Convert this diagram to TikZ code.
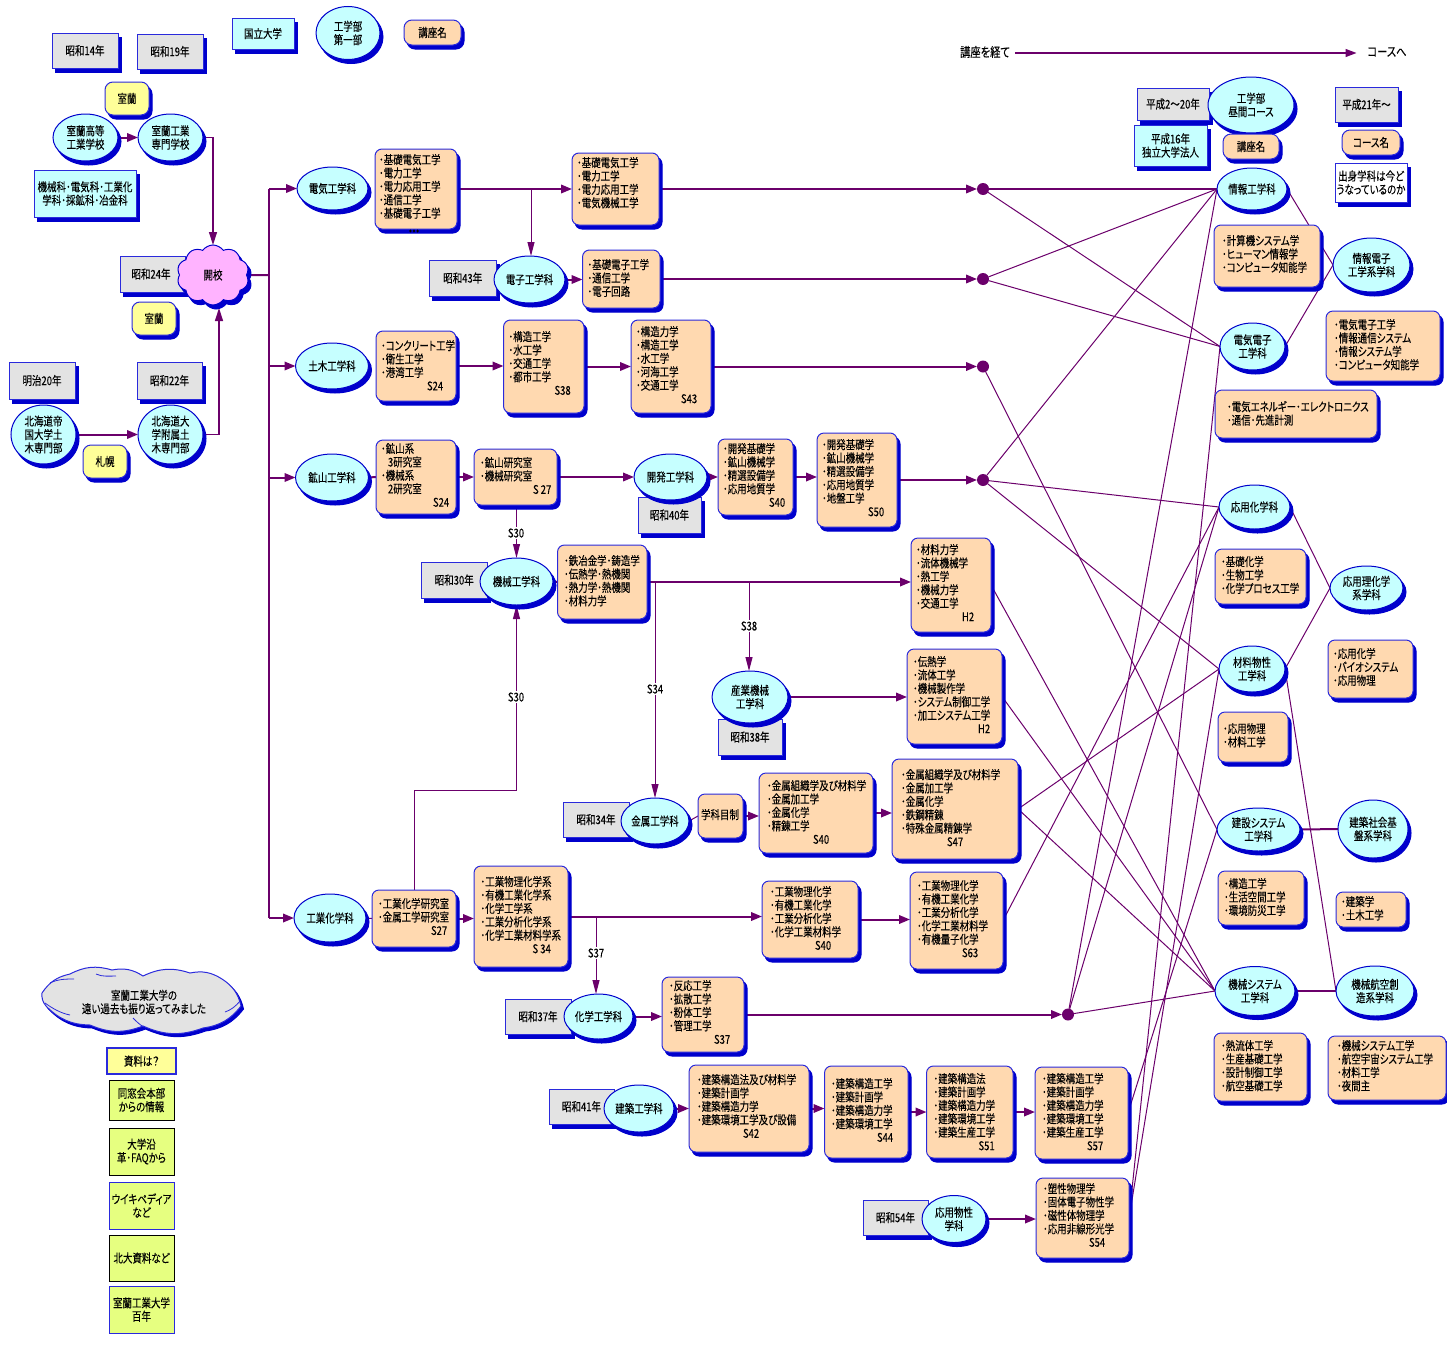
\documentclass[tikz,border=0pt]{standalone}
\usepackage{fontspec}
\setmainfont{Noto Sans CJK JP}[FakeStretch=0.79,FakeBold=0.1,RawFeature={+palt}]
\usetikzlibrary{shapes.geometric,shapes.symbols,shadows,arrows.meta,calc}
\pgfdeclarelayer{edges}
\pgfsetlayers{edges,main}
\definecolor{sblue}{HTML}{0000CC}
\definecolor{bblue}{HTML}{2A2ADC}
\definecolor{cyanf}{HTML}{C6FFFF}
\definecolor{grayf}{HTML}{E3E3E3}
\definecolor{peach}{HTML}{FFD9B0}
\definecolor{yell}{HTML}{FFFF99}
\definecolor{lime}{HTML}{E6FF80}
\definecolor{pink}{HTML}{FFB3FF}
\definecolor{purp}{HTML}{6B006B}
\newcommand\fs{\fontsize{12}{13.4}\selectfont}
\tikzset{
  x=1pt,y=-1pt,
  every node/.style={font=\fs,text=black,inner sep=0pt,outer sep=0pt},
  shade3/.style={general shadow={fill=sblue,draw=sblue,shadow xshift=3pt,shadow yshift=-4pt}},
  rectbase/.style={rectangle,draw=bblue,line width=1pt,align=center,shade3},
  yrbox/.style={rectbase,fill=grayf},
  cybox/.style={rectbase,fill=cyanf},
  whbox/.style={rectbase,fill=white},
  ylbox/.style={rectbase,fill=yell,rounded corners=8pt},
  pcbox/.style={rectbase,fill=peach,rounded corners=8pt},
  kbox/.style={rectangle,draw=bblue,line width=1pt,fill=peach,rounded corners=7pt,shade3},
  ellbox/.style={ellipse,draw=sblue,line width=1pt,fill=cyanf,align=center,shade3},
  srcbox/.style={rectangle,draw=bblue,line width=1.2pt,fill=yell,align=center},
  limeb/.style={rectangle,draw=black,line width=1pt,fill=lime,align=center},
  limeu/.style={rectangle,draw=bblue,line width=1pt,fill=lime,align=center},
  dotn/.style={circle,fill=purp,minimum size=12pt},
  tagl/.style={fill=white,inner sep=1.5pt},
  thickln/.style={draw=purp,line width=2pt},
  thinln/.style={draw=purp,line width=1pt},
  midln/.style={draw=purp,line width=1.4pt},
  arr/.style={thickln,-{Triangle[length=11pt,width=8.5pt]}},
  tarr/.style={thinln,-{Triangle[length=14pt,width=7pt]}},
  marr/.style={midln,-{Triangle[length=13pt,width=8pt]}},
  cloudpuff/.style={bend left=22},
  wrinkle/.style={draw=bblue,line width=0.8pt},
}
\newcommand\kbx[8]{%
  \pgfmathsetmacro\wW{#4-#2}\pgfmathsetmacro\hH{#5-#3}%
  \node[kbox] (#1) at ({(#2+#4)/2},{(#3+#5)/2}) {\begin{minipage}[t][\hH pt][t]{\wW pt}\fs
    \leftskip=#6pt\rightskip=0pt plus 1fil\parfillskip=0pt plus 1fil
    \vspace*{\dimexpr#7pt-1pt\relax}#8\end{minipage}};}
\newcommand\rbx[7]{%
  \pgfmathsetmacro\wW{#5-#3}\pgfmathsetmacro\hH{#6-#4}%
  \node[#1,minimum width=\wW pt,minimum height=\hH pt] (#2) at ({(#3+#5)/2},{(#4+#6)/2}) {#7};}
\newcommand\elx[6]{%
  \node[ellbox,minimum width=#4pt,minimum height=#5pt] (#1) at (#2,#3) {#6};}
\newcommand\cloudpath{(42,993) to[cloudpuff] (70,974) to[cloudpuff] (112,970) to[cloudpuff] (143,976) to[cloudpuff] (190,973) to[cloudpuff] (222,979) to[cloudpuff] (241,1006) to[cloudpuff] (203,1028) to[cloudpuff] (143,1026) to[cloudpuff] (90,1025) to[cloudpuff] (46,1006) to[cloudpuff] (42,993) -- cycle}
\begin{document}
\begin{tikzpicture}
\useasboundingbox (0,0) rectangle (1447,1349);
% ---- year boxes (below the ellipses)
\rbx{yrbox}{y14}{52}{33}{118}{68}{昭和14年}
\rbx{yrbox}{y19}{137}{34}{203}{69}{昭和19年}
\rbx{yrbox}{y24}{120}{256}{185}{292}{\hspace*{-1.5pt}昭和24年\hspace*{1.5pt}}
\rbx{yrbox}{m20}{9}{362}{75}{399}{明治20年}
\rbx{yrbox}{y22}{137}{362}{202}{399}{昭和22年}
\rbx{yrbox}{y43}{429.5}{260}{496}{296}{昭和43年}
\rbx{yrbox}{y40}{638}{497}{701}{533}{昭和40年}
\rbx{yrbox}{y30}{421.5}{562}{487}{598}{昭和30年}
\rbx{yrbox}{y38}{718}{719}{782}{755}{昭和38年}
\rbx{yrbox}{y34}{563}{802}{629}{837}{昭和34年}
\rbx{yrbox}{y37}{505}{999}{571}{1034}{昭和37年}
\rbx{yrbox}{y41}{549}{1089}{614}{1124}{昭和41年}
\rbx{yrbox}{y54}{863}{1200}{928}{1235}{昭和54年}
\rbx{yrbox}{h2}{1137}{88}{1209}{120}{平成2～20年}
\rbx{yrbox}{h21}{1335}{87}{1398}{122}{平成21年～}
% ---- legend
\rbx{cybox}{lgn}{232}{18}{294}{49}{国立大学}
\elx{lge}{348}{33}{64}{53}{工学部\\第一部}
\rbx{pcbox}{lgk}{404}{20}{461}{45}{講座名}
\rbx{ylbox}{ymu1}{105}{82}{149}{115}{室蘭}
\elx{mk}{85.5}{137.5}{65}{47}{室蘭高等\\工業学校}
\elx{ms}{170.5}{137.5}{65}{47}{室蘭工業\\専門学校}
\rbx{cybox}{kam}{34}{170}{136}{217}{機械科･電気科･工業化\\学科･採鉱科･冶金科}
\node[cloud,cloud puffs=10,cloud puff arc=110,aspect=1.2,draw=sblue,line width=1pt,fill=pink,minimum width=72pt,minimum height=60pt,shade3] (kaiko) at (213,275) {開校};
\rbx{ylbox}{ymu2}{132}{302}{176}{335}{室蘭}
\elx{hk}{43.5}{434.5}{65}{59}{北海道帝\\国大学土\\木専門部}
\elx{hd}{170.5}{434.5}{65}{59}{北海道大\\学附属土\\木専門部}
\rbx{ylbox}{ysa}{83}{445}{127}{478}{札幌}
% ---- departments
\elx{de}{332.5}{188.5}{71}{43}{電気工学科}
\elx{do}{332}{366}{73}{46}{土木工学科}
\elx{ko}{332}{477.5}{73}{47}{鉱山工学科}
\elx{kg}{330}{918}{72}{48}{工業化学科}
\elx{ds}{529.5}{279.5}{71}{47}{電子工学科}
\elx{kh}{670.5}{477}{73}{46}{開発工学科}
\elx{kk}{516.5}{581.5}{73}{47}{機械工学科}
\elx{sg}{750}{697}{76}{52}{産業機械\\工学科}
\elx{kz}{655}{821}{68}{46}{金属工学科}
\elx{kc}{598.5}{1016.5}{69}{45}{化学工学科}
\elx{kn}{639}{1108.5}{70}{47}{建築工学科}
\elx{op}{954}{1219}{64}{47}{応用物性\\学科}
% ---- course boxes
\kbx{a1}{375}{149}{457}{229}{4}{6}{･基礎電気工学\\･電力工学\\･電力応用工学\\･通信工学\\･基礎電子工学}
\node (ov) at (414,231) {\fontsize{13}{13}\selectfont\bfseries ...};
\kbx{a2}{572}{153}{659}{225}{5}{5}{･基礎電気工学\\･電力工学\\･電力応用工学\\･電気機械工学}
\kbx{b1}{582.5}{250}{660}{308}{5}{10}{･基礎電子工学\\･通信工学\\･電子回路}
\kbx{c1}{376}{331}{456}{401}{5}{10}{･コンクリート工学\\･衛生工学\\･港湾工学\\\hspace*{46pt}S24}
\kbx{c2}{503.5}{320}{584}{413}{5}{12}{･構造工学\\･水工学\\･交通工学\\･都市工学\\\hspace*{46pt}S38}
\kbx{c3}{631}{320}{711}{413}{5}{7}{･構造力学\\･構造工学\\･水工学\\･河海工学\\･交通工学\\\hspace*{45pt}S43}
\kbx{d1b}{376}{440}{456}{514}{5}{4}{･鉱山系\\\hspace*{7pt}3研究室\\･機械系\\\hspace*{7pt}2研究室\\\hspace*{52pt}S24}
\kbx{d2}{474}{449}{557}{505}{6}{9}{･鉱山研究室\\･機械研究室\\\hspace*{53pt}S 27}
\kbx{d3}{718}{439}{793}{515}{5}{5}{･開発基礎学\\･鉱山機械学\\･精選設備学\\･応用地質学\\\hspace*{46pt}S40}
\kbx{d4}{817}{433}{897}{527}{5}{7}{･開発基礎学\\･鉱山機械学\\･精選設備学\\･応用地質学\\･地盤工学\\\hspace*{46pt}S50}
\kbx{e1}{557.5}{545}{647}{619}{6.5}{11}{･鉄冶金学･鋳造学\\･伝熱学･熱機関\\･熱力学･熱機関\\･材料力学}
\kbx{e2}{911}{538}{991}{632}{5}{7}{･材料力学\\･流体機械学\\･熱工学\\･機械力学\\･交通工学\\\hspace*{46pt}H2}
\kbx{f2}{907}{649}{1002}{744}{6}{8}{･伝熱学\\･流体工学\\･機械製作学\\･システム制御工学\\･加工システム工学\\\hspace*{65pt}H2}
\kbx{g0}{698}{794}{743}{838}{3}{16}{学科目制}
\kbx{g1}{759}{773}{873}{853}{8}{8}{･金属組織学及び材料学\\･金属加工学\\･金属化学\\･精錬工学\\\hspace*{46pt}S40}
\kbx{g2}{892}{759}{1018}{859}{9}{11}{･金属組織学及び材料学\\･金属加工学\\･金属化学\\･鉄鋼精錬\\･特殊金属精錬学\\\hspace*{46pt}S47}
\kbx{h1}{372}{890}{456}{947}{6}{9}{･工業化学研究室\\･金属工学研究室\\\hspace*{53pt}S27}
\kbx{h2b}{474}{866}{568}{967}{6.5}{11}{･工業物理化学系\\･有機工業化学系\\･化学工学系\\･工業分析化学系\\･化学工業材料学系\\\hspace*{52pt}S 34}
\kbx{h3}{762}{881}{858}{958}{8}{6}{･工業物理化学\\･有機工業化学\\･工業分析化学\\･化学工業材料学\\\hspace*{45pt}S40}
\kbx{h4}{910}{872}{1003}{969}{7}{9}{･工業物理化学\\･有機工業化学\\･工業分析化学\\･化学工業材料学\\･有機量子化学\\\hspace*{45pt}S63}
\kbx{i1}{662}{977}{744}{1052}{7}{4}{･反応工学\\･拡散工学\\･粉体工学\\･管理工学\\\hspace*{45pt}S37}
\kbx{j1}{689}{1065}{809}{1152}{8}{10}{･建築構造法及び材料学\\･建築計画学\\･建築構造力学\\･建築環境工学及び設備\\\hspace*{46pt}S42}
\kbx{j2}{824.5}{1066}{908}{1158}{6.5}{13}{･建築構造工学\\･建築計画学\\･建築構造力学\\･建築環境工学\\\hspace*{46pt}S44}
\kbx{j3}{926.5}{1066}{1013}{1158}{7}{8}{･建築構造法\\･建築計画学\\･建築構造力学\\･建築環境工学\\･建築生産工学\\\hspace*{45pt}S51}
\kbx{j4}{1035}{1067}{1128}{1159}{7}{7}{･建築構造工学\\･建築計画学\\･建築構造力学\\･建築環境工学\\･建築生産工学\\\hspace*{45pt}S57}
\kbx{k1}{1036}{1178}{1129}{1258}{7}{6}{･塑性物理学\\･固体電子物性学\\･磁性体物理学\\･応用非線形光学\\\hspace*{46pt}S54}
% ---- right column
\node (tr1) at (985,52) {\fontsize{13}{14}\selectfont 講座を経て};
\node (tr2) at (1387,52) {\fontsize{13}{14}\selectfont コースへ};
\elx{hc}{1251}{105}{86}{56}{工学部\\昼間コース}
\rbx{cybox}{h16}{1134}{125}{1207}{166}{平成16年\\独立大学法人}
\rbx{pcbox}{rk}{1223}{134}{1279}{159}{講座名}
\rbx{pcbox}{rc}{1342}{130}{1400}{155}{コース名}
\rbx{whbox}{rw}{1335}{163}{1407}{202}{出身学科は今ど\\うなっているのか}
\elx{jk}{1252}{189}{70}{42}{情報工学科}
\kbx{r1}{1214}{225}{1320}{287}{8}{11}{･計算機システム学\\･ヒューマン情報学\\･コンピュータ知能学}
\elx{jd}{1371.5}{265}{77}{54}{情報電子\\工学系学科}
\elx{dd}{1252.5}{346.5}{65}{47}{電気電子\\工学科}
\kbx{r2}{1326}{311}{1440}{381}{8}{9}{･電気電子工学\\･情報通信システム\\･情報システム学\\･コンピュータ知能学}
\kbx{r3}{1215}{390}{1377}{438}{12}{12}{･電気エネルギー･エレクトロニクス\\･通信･先進計測}
\elx{oc}{1254.5}{507}{71}{44}{応用化学科}
\kbx{r4}{1215}{549}{1306}{604}{6}{8}{･基礎化学\\･生物工学\\･化学プロセス工学}
\elx{or}{1366.5}{588}{73}{44}{応用理化学\\系学科}
\elx{zb}{1252}{669}{66}{46}{材料物性\\工学科}
\kbx{r5}{1328}{640}{1413}{698}{5}{9}{･応用化学\\･バイオシステム\\･応用物理}
\kbx{r6}{1218}{712}{1288}{762}{5}{12}{･応用物理\\･材料工学}
\elx{ks}{1258.5}{829.5}{83}{43}{建設システム\\工学科}
\elx{kb}{1373}{829}{70}{58}{建築社会基\\盤系学科}
\kbx{r7}{1218}{871}{1304}{925}{6}{8}{･構造工学\\･生活空間工学\\･環境防災工学}
\kbx{r8}{1336}{892}{1406}{927}{5}{5}{･建築学\\･土木工学}
\elx{ms2}{1255}{991}{80}{49}{機械システム\\工学科}
\elx{kc2}{1375}{991}{78}{50}{機械航空創\\造系学科}
\kbx{r9}{1214}{1033}{1307}{1101}{7}{8}{･熱流体工学\\･生産基礎工学\\･設計制御工学\\･航空基礎工学}
\kbx{r10}{1328}{1036}{1446}{1100}{9}{5}{･機械システム工学\\･航空宇宙システム工学\\･材料工学\\･夜間主}
% ---- junction dots
\node[dotn] (p1) at (983,189) {};
\node[dotn] (p2) at (983,279) {};
\node[dotn] (p3) at (983,366.5) {};
\node[dotn] (p4) at (983,480) {};
\node[dotn] (p5) at (1068,1014.5) {};
% ---- bottom-left cloud and source list
\begin{scope}[shift={(2.5,3)}]
\path[fill=sblue,draw=sblue,line width=1pt] \cloudpath;
\end{scope}
\path[fill=grayf,draw=bblue,line width=1pt] \cloudpath;
\draw[wrinkle] (50,983) .. controls (58,979) and (66,979) .. (74,979);
\draw[wrinkle] (45,1003) .. controls (52,1008) and (60,1013) .. (70,1015);
\draw[wrinkle] (225,1012) .. controls (231,1010) and (236,1006) .. (240,1001);
\draw[wrinkle] (133,1018) .. controls (137,1022) and (140,1025) .. (144,1027);
\draw[wrinkle] (96,974) .. controls (102,977) and (110,976) .. (116,976);
\node[align=center] (cl) at (144,1002) {室蘭工業大学の\\遠い過去も振り返ってみました};
\rbx{srcbox}{s0}{107}{1048}{176}{1074}{資料は？}
\rbx{limeb}{s1}{109}{1080}{174}{1120}{同窓会本部\\からの情報}
\rbx{limeb}{s2}{109}{1128}{174}{1175}{大学沿\\革･FAQから}
\rbx{limeu}{s3}{109}{1182}{174}{1229}{ウイキペディア\\など}
\rbx{limeb}{s4}{109}{1235}{174}{1281}{北大資料など}
\rbx{limeu}{s5}{109}{1286}{174}{1333}{室蘭工業大学\\百年}
% ---- connectors
\coordinate (tr) at (269,275);
\begin{pgfonlayer}{edges}
\draw[arr] (mk.east) -- (ms.west);
\draw[marr] (ms.east) -| (kaiko.north);
\draw[arr] (hk.east) -- (hd.west);
\draw[marr] (hd.east) -| ([shift={(6pt,-3pt)}]kaiko.south);
\draw[thickln] (kaiko.east) -- (tr);
\draw[midln] (tr |- de.west) -- (tr |- kg.west);
\draw[arr] (tr |- de.west) -- (de.west);
\draw[arr] (tr |- do.west) -- (do.west);
\draw[arr] (tr |- ko.west) -- (ko.west);
\draw[arr] (tr |- kg.west) -- (kg.west);
\draw[thinln,line width=1.2pt,-{Triangle[length=11pt,width=8pt]},shorten >=11pt] ([shift={(5pt,-1pt)}]tr1.east) -- ([yshift=-1pt]tr2.west);
% top row
\draw[arr] (a1.east) -- (a1.east -| a2.west);
\draw[arr] (a2.east) -- (p1.west);
\coordinate (bd) at (531,189);
\draw[tarr] (bd) -- (bd |- ds.north);
\draw[arr] (ds.east) -- (ds.east -| b1.west);
\draw[arr] (b1.east) -- (p2.west);
\draw[arr] (c1.east) -- (c1.east -| c2.west);
\draw[arr] (c2.east) -- (c2.east -| c3.west);
\draw[arr] (c3.east) -- (p3.west);
\draw[thickln] (ko.east) -- (d1b.west);
\draw[arr] (d1b.east) -- (d1b.east -| d2.west);
\draw[arr] (d2.east) -- (d2.east -| kh.west);
\draw[arr] (kh.east) -- (kh.east -| d3.west);
\draw[arr] (d3.east) -- (d3.east -| d4.west);
\draw[arr] (d4.east) -- (p4.west);
\draw[tarr] (kk.north |- d2.south) -- (kk.north);
\draw[thickln] (kk.east) -- (e1.west);
\draw[arr] (e1.east) -- (e1.east -| e2.west);
\coordinate (ez) at (655,582);
\coordinate (es) at (749,582);
\draw[tarr] (ez) -- (ez |- kz.north);
\draw[tarr] (es) -- (es |- sg.north);
\draw[arr] (sg.east) -- (sg.east -| f2.west);
\draw[thinln] (kz.east) -- (g0.west);
\draw[arr] (g0.east) -- (g0.east -| g1.west);
\draw[arr] (g1.east) -- (g1.east -| g2.west);
\draw[thinln] (kg.east) -- (h1.west);
\draw[arr] (h1.east) -- (h1.east -| h2b.west);
\draw[arr] (h2b.east) -- (h2b.east -| h3.west);
\draw[arr] (h3.east) -- (h3.east -| h4.west);
\coordinate (hk2) at (414,790);
\draw[tarr] (h1.north -| hk2) -- (hk2) -- (hk2 -| kk.south) -- (kk.south);
\coordinate (hc2) at (596,917);
\draw[tarr] (hc2) -- (hc2 |- kc.north);
\draw[arr] (kc.east) -- (kc.east -| i1.west);
\draw[arr] (i1.east) -- (p5.west);
\draw[arr] (kn.east) -- (kn.east -| j1.west);
\draw[arr] (j1.east) -- (j1.east -| j2.west);
\draw[arr] (j2.east) -- (j2.east -| j3.west);
\draw[arr] (j3.east) -- (j3.east -| j4.west);
\draw[arr] (op.east) -- (op.east -| k1.west);
% crossing lines
\draw[thickln] (p1) -- (jk.west);
\draw[thinln] (p1) -- (dd.west);
\draw[thinln] (p2) -- (jk.west);
\draw[thinln] (p2) -- (dd.west);
\draw[thinln] (p3) -- (ks.west);
\draw[thinln] (p4) -- (jk.west);
\draw[thinln] (p4) -- (oc.west);
\draw[thinln] (p4) -- (zb.west);
\draw[thinln] (p5) -- (jk.west);
\draw[thinln] (p5) -- (oc.west);
\draw[thinln] (p5) -- (ms2.west);
\draw[thinln] (e2.east) -- (ms2.west);
\draw[thinln] (f2.east) -- (ms2.west);
\draw[thinln] (g2.east) -- (ms2.west);
\draw[thinln] (g2.east) -- (zb.west);
\draw[thinln] (h4.east) -- (oc.west);
\draw[thinln] (j4.east) -- (ks.west);
\draw[thinln] (k1.east) -- (dd.west);
\draw[thinln] (k1.east) -- (zb.west);
% right pairs
\draw[thinln] (jk.east) -- (jd.west);
\draw[thinln] (dd.east) -- (jd.west);
\draw[thinln] (oc.east) -- (or.west);
\draw[thinln] (zb.east) -- (or.west);
\draw[thinln] (zb.east) -- (kc2.west);
\draw[thickln] (ks.east) -- (kb.west);
\draw[thickln] (ms2.east) -- (kc2.west);
\end{pgfonlayer}
% ---- connector labels
\node[tagl] (t30a) at (516,533) {S30};
\node[tagl] (t30b) at (516,697) {S30};
\node[tagl] (t34) at (655,689) {S34};
\node[tagl] (t38) at (749,626) {S38};
\node[tagl] (t37) at (596,953) {S37};
\end{tikzpicture}
\end{document}
